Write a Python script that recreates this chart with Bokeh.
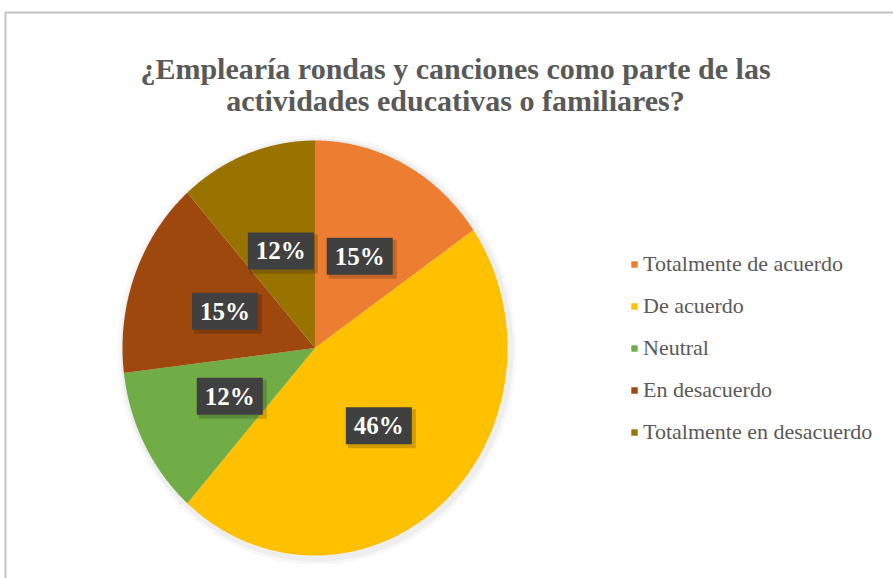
import numpy as np
from bokeh.plotting import figure
from bokeh.models import Range1d, ColumnDataSource, Legend, LegendItem
from bokeh.core.properties import value
from bokeh.embed import file_html
from bokeh.resources import INLINE

# ---- data ----
categories = ["Totalmente de acuerdo", "De acuerdo", "Neutral", "En desacuerdo", "Totalmente en desacuerdo"]
counts = [4, 12, 3, 4, 3]
colors = ["#ED7D31", "#FFC000", "#70AD47", "#9E480E", "#997300"]
title_lines = ["¿Emplearía rondas y canciones como parte de las",
               "actividades educativas o familiares?"]

# ---- layout constants (pixels on the canvas) ----
W, H = 893, 578
CX, CY = 314.5, 347.5        # pie centre
RX, RY = 192.5, 207.5        # pie radii (px per data unit)

p = figure(width=W, height=H, output_backend="svg", toolbar_location=None,
           x_range=Range1d(-CX / RX, (W - CX) / RX),
           y_range=Range1d(-(H - CY) / RY, CY / RY),
           x_axis_type=None, y_axis_type=None, min_border=0)
p.grid.visible = False
p.outline_line_color = None
p.background_fill_color = "white"
p.border_fill_color = "white"

def px_x(cx):
    return (cx - CX) / RX

def px_y(cy):
    return (CY - cy) / RY

# border of the chart area
p.segment(x0=[px_x(5), px_x(4)], y0=[px_y(12), px_y(12)],
          x1=[px_x(5), px_x(W)], y1=[px_y(H), px_y(12)],
          line_color="#C4C4C4", line_width=2)

# soft shadow around pie
sh = np.linspace(0, 2 * np.pi, 200)
for k, a in [(1.035, 0.06), (1.02, 0.08)]:
    p.patch(k * np.cos(sh) + 0.01, k * np.sin(sh) - 0.01, fill_color="#808080",
            fill_alpha=a, line_color=None)

# ---- pie slices ----
total = sum(counts)
fracs = np.array(counts) / total
cum = np.concatenate([[0], np.cumsum(fracs)])
xs, ys, mids = [], [], []
for i in range(len(counts)):
    t = np.pi / 2 - 2 * np.pi * np.linspace(cum[i], cum[i + 1], 120)
    xs.append(np.concatenate([[0], np.cos(t)]).tolist())
    ys.append(np.concatenate([[0], np.sin(t)]).tolist())
    mids.append(np.pi / 2 - 2 * np.pi * (cum[i] + cum[i + 1]) / 2)

renderers = []
for i in range(len(counts)):
    r = p.patch(xs[i], ys[i], fill_color=colors[i], line_color=None)
    renderers.append(r)

# ---- data labels ----
lx = [0.5 * np.cos(m) for m in mids]
ly = [0.5 * np.sin(m) for m in mids]
labels = [f"{round(100 * f)}%" for f in fracs]
lsrc = ColumnDataSource(dict(x=lx, y=ly, t=labels,
                             sx=[v + 3 / RX for v in lx], sy=[v - 3 / RY for v in ly]))
p.rect("sx", "sy", width=68, height=39, width_units="screen", height_units="screen",
       fill_color="#000000", fill_alpha=0.18, line_color=None, source=lsrc)
p.rect("x", "y", width=66, height=37, width_units="screen", height_units="screen",
       fill_color="#404040", line_color=None, source=lsrc)
p.text("x", "y", text="t", text_align="center", text_baseline="middle",
       text_font=value("Liberation Serif"), text_font_style="bold",
       text_font_size="25px", text_color="white", source=lsrc)

# ---- title ----
p.text(x=[px_x(455)] * 2, y=[px_y(68), px_y(100)], text=title_lines,
       text_align="center", text_baseline="alphabetic",
       text_font=value("Liberation Serif"), text_font_style="bold",
       text_font_size="30px", text_color="#595959")

# ---- legend ----
legend = Legend(items=[LegendItem(label=categories[i], renderers=[renderers[i]])
                       for i in range(len(categories))],
                location=(630, 133), orientation="vertical",
                label_text_font="Liberation Serif", label_text_font_size="22px",
                label_text_color="#595959", glyph_width=8, glyph_height=8,
                label_height=26, spacing=16, padding=0, margin=0,
                label_standoff=5, border_line_color=None,
                background_fill_alpha=0)
p.add_layout(legend)

open("out.html", "w").write(file_html(p, INLINE))
